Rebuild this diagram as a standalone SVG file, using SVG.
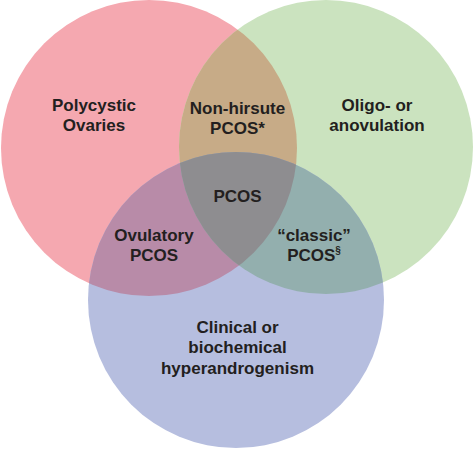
<svg xmlns="http://www.w3.org/2000/svg" width="474" height="449" viewBox="0 0 474 449">
  <style>
    text { font-family: "Liberation Sans", Arial, sans-serif; font-weight: bold; font-size: 17px; fill: #231f20; text-anchor: middle; }
    .sup { font-size: 10px; }
  </style>
  <defs>
    <clipPath id="clipRed"><circle cx="149" cy="148" r="148"/></clipPath>
    <clipPath id="clipGreen"><circle cx="326" cy="147" r="147"/></clipPath>
    <clipPath id="clipBlue"><circle cx="236" cy="300" r="148"/></clipPath>
  </defs>
  <rect width="474" height="449" fill="#ffffff"/>
  <g id="polycystic-ovaries">
    <circle cx="149" cy="148" r="148" fill="#f5a8b0"/>
  </g>
  <g id="oligo-anovulation">
    <circle cx="326" cy="147" r="147" fill="#cbe3bf"/>
  </g>
  <g id="hyperandrogenism">
    <circle cx="236" cy="300" r="148" fill="#b6bedf"/>
  </g>
  <g id="non-hirsute-pcos">
    <circle cx="326" cy="147" r="147" fill="#c7ab87" clip-path="url(#clipRed)"/>
  </g>
  <g id="ovulatory-pcos">
    <circle cx="236" cy="300" r="148" fill="#b88ba8" clip-path="url(#clipRed)"/>
  </g>
  <g id="classic-pcos">
    <circle cx="236" cy="300" r="148" fill="#93afae" clip-path="url(#clipGreen)"/>
  </g>
  <g id="pcos">
    <g clip-path="url(#clipGreen)">
      <circle cx="236" cy="300" r="148" fill="#8e8d90" clip-path="url(#clipRed)"/>
    </g>
  </g>
  <g id="labels">
    <text x="94" y="111">Polycystic</text>
    <text x="94" y="131">Ovaries</text>
    <text x="237.5" y="114">Non-hirsute</text>
    <text x="237.5" y="134">PCOS*</text>
    <text x="377" y="111">Oligo- or</text>
    <text x="377" y="131">anovulation</text>
    <text x="237.5" y="202">PCOS</text>
    <text x="154" y="241">Ovulatory</text>
    <text x="154" y="261">PCOS</text>
    <text x="314" y="241">“classic”</text>
    <text x="314" y="261">PCOS<tspan class="sup" dy="-7">§</tspan></text>
    <text x="237.5" y="333">Clinical or</text>
    <text x="237.5" y="353">biochemical</text>
    <text x="237.5" y="374">hyperandrogenism</text>
  </g>
</svg>
